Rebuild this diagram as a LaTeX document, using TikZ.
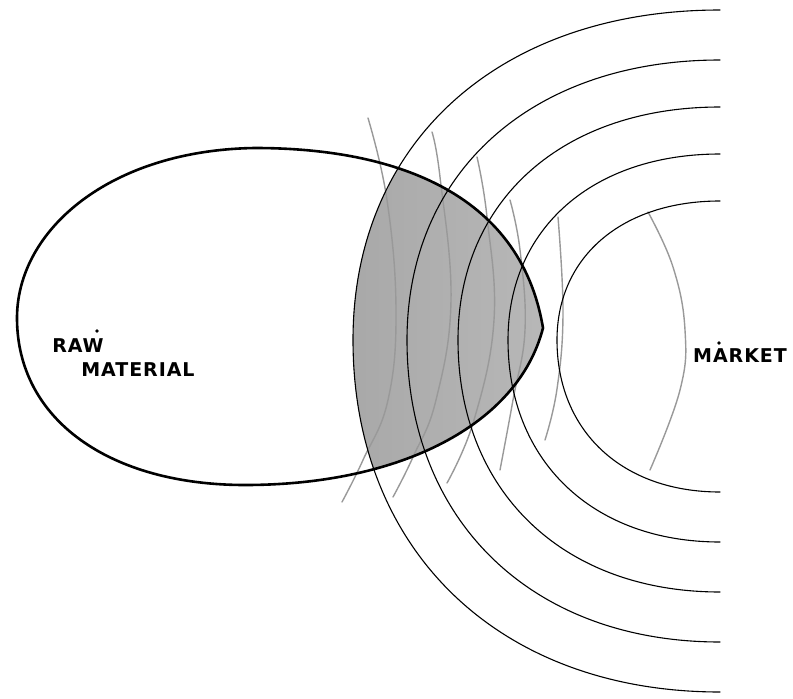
\documentclass[tikz,border=0pt]{standalone}
\usepackage{fontspec}
\newfontfamily\handfont[LetterSpace=5]{DejaVu Sans}
\usetikzlibrary{calc}

\begin{document}
\begin{tikzpicture}[
    x=1pt, y=-1pt,
    egg/.style={draw=black, line width=2.6pt, line join=round},
    ring/.style={draw=black, line width=1.1pt, line cap=round},
    pencil/.style={draw=black!40, line width=1.4pt, line cap=round},
    tag/.style={font=\handfont\bfseries\fontsize{19}{22}\selectfont, inner sep=0pt, text=black}
]
\useasboundingbox (0,0) rectangle (793,699);

% raw material region, kept for clipping and drawing
\path[save path=\eggpath] (17,318) .. controls (17,230) and (110,150) .. (255,148)
    .. controls (390,148) and (520,190) .. (543,328)
    .. controls (518,425) and (400,485) .. (245,485)
    .. controls (110,485) and (17,420) .. (17,318) -- cycle;

% shaded overlap
\begin{scope}
  \clip[use path=\eggpath];
  \clip (720,10) .. controls (500,10) and (353,142) .. (353,340)
        .. controls (353,550) and (500,692) .. (720,692) -- cycle;
  \fill[left color=black!34, middle color=black!13, right color=black!28] (350,140) rectangle (546,490);
\end{scope}

% pencil arcs
\draw[pencil] plot[smooth, tension=0.7] coordinates {(368,118) (387,200) (396,310) (388,400) (363,460) (342,502)};
\draw[pencil] plot[smooth, tension=0.7] coordinates {(432,132) (440,177) (451,300) (436,400) (413,457) (393,497)};
\draw[pencil] plot[smooth, tension=0.7] coordinates {(477,157) (487,217) (494,320) (474,420) (447,483)};
\draw[pencil] plot[smooth, tension=0.7] coordinates {(510,200) (520,250) (525,330) (513,400) (500,470)};
\draw[pencil] plot[smooth, tension=0.7] coordinates {(558,217) (563,313) (557,389) (545,440)};
\draw[pencil] plot[smooth, tension=0.7] coordinates {(648,212) (673,267) (685,330) (680,390) (650,470)};

% market rings
\foreach \l/\t/\b in {353/10/692, 407/60/642, 458/107/592, 508/154/542, 557/201/492}{
  \draw[ring] (720,\t) .. controls ({720-0.6*(720-\l)},\t) and (\l,{340-0.6*(340-\t)}) .. (\l,340)
      .. controls (\l,{340+0.6*(\b-340)}) and ({720-0.6*(720-\l)},\b) .. (720,\b);
}

\draw[egg, use path=\eggpath];

\node[tag] (raw) at (78,346) {RAW};
\node[tag] (material) at (138,370) {MATERIAL};
\node[tag] (market) at (740,356) {MARKET};
\fill (97,331) circle (1.9);
\fill (719,343) circle (1.9);
\end{tikzpicture}
\end{document}
